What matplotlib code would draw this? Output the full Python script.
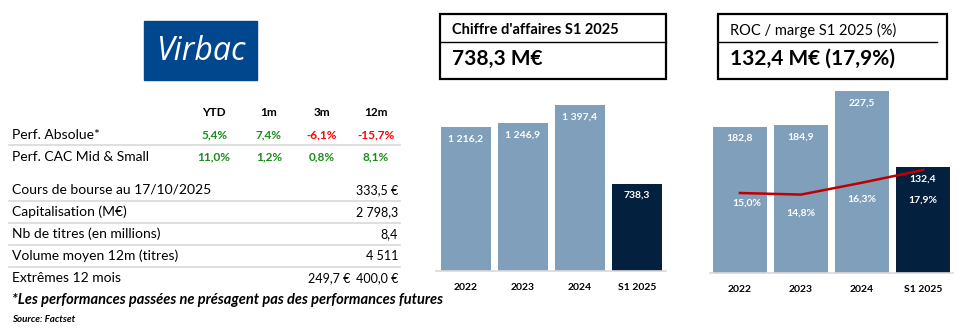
import matplotlib
matplotlib.use('Agg')
import matplotlib.pyplot as plt
from matplotlib.patches import Rectangle
from matplotlib.lines import Line2D

plt.rcParams['font.family'] = ['Lato', 'DejaVu Sans']

W, H = 977, 331

# ---- data ----
perf_cols = ['YTD', '1m', '3m', '12m']
perf_rows = ['Perf. Absolue*', 'Perf. CAC Mid & Small']
perf_vals = [[5.4, 7.4, -6.1, -15.7],
             [11.0, 1.2, 0.8, 8.1]]

info_labels = ['Cours de bourse au 17/10/2025', 'Capitalisation (M€)',
               'Nb de titres (en millions)', 'Volume moyen 12m (titres)',
               'Extrêmes 12 mois']
info_values = ['333,5 €', '2 798,3', '8,4', '4 511', '400,0 €']
low_12m = '249,7 €'

years = ['2022', '2023', '2024', 'S1 2025']
ca = [1216.2, 1246.9, 1397.4, 738.3]
roc = [182.8, 184.9, 227.5, 132.4]
marge = [15.0, 14.8, 16.3, 17.9]

LIGHT = '#809FBA'
DARK = '#03213F'
GREEN = '#1A8C1A'
RED = '#FF0000'


def fx(x):
    return x / W


def fy(y):
    return 1 - y / H


def fmt(v, dec=1):
    s = f'{v:,.{dec}f}'.replace(',', ' ').replace('.', ',')
    return s


fig = plt.figure(figsize=(W / 100, H / 100), dpi=100)

# ---- logo ----
fig.patches.append(Rectangle((fx(144), fy(80)), fx(113), 59 / H,
                             transform=fig.transFigure, color='#00478D'))
fig.text(fx(201), fy(51), 'Virbac', color='white', fontsize=23,
         ha='center', va='center', family='Open Sans', style='italic')

# ---- perf table ----
col_x = [214, 269, 322, 376]
for c, x in zip(perf_cols, col_x):
    fig.text(fx(x), fy(113), c, ha='center', va='center', fontsize=8.5,
             fontweight='bold', color='black')
row_y = [135, 157]
for r, y, vals in zip(perf_rows, row_y, perf_vals):
    fig.text(fx(12), fy(y), r, ha='left', va='center', fontsize=10)
    for v, x in zip(vals, col_x):
        fig.text(fx(x), fy(y), fmt(v) + '%', ha='center', va='center',
                 fontsize=8.5, fontweight='bold',
                 color=GREEN if v >= 0 else RED)
fig.lines.append(Line2D([fx(9), fx(400)], [fy(145), fy(145)],
                        transform=fig.transFigure, color='#D9D9D9', lw=1.2))

# ---- info table ----
info_y = [190, 212, 234, 256, 278]
for i, (lab, val, y) in enumerate(zip(info_labels, info_values, info_y)):
    fig.text(fx(12), fy(y), lab, ha='left', va='center', fontsize=10)
    fig.text(fx(398), fy(y), val, ha='right', va='center', fontsize=9)
    if i < len(info_labels) - 1:
        ly = y + 11
        fig.lines.append(Line2D([fx(9), fx(400)], [fy(ly), fy(ly)],
                                transform=fig.transFigure, color='#D9D9D9', lw=1.2))
fig.text(fx(350), fy(info_y[-1]), low_12m, ha='right', va='center', fontsize=9)

fig.text(fx(12), fy(300), '*Les performances passées ne présagent pas des performances futures',
         ha='left', va='center', fontsize=10.5, fontweight='bold', style='italic')
fig.text(fx(12), fy(320), 'Source: Factset', ha='left', va='center',
         fontsize=7, fontweight='bold', style='italic')


# ---- header boxes ----
def header_box(x0, x1, title, value, title_weight, line_end):
    fig.patches.append(Rectangle((fx(x0), fy(79)), fx(x1 - x0), 65 / H,
                                 transform=fig.transFigure, fill=False,
                                 edgecolor='black', lw=1.6))
    fig.lines.append(Line2D([fx(x0), fx(line_end)], [fy(42), fy(42)],
                            transform=fig.transFigure, color='black', lw=1.0))
    fig.text(fx(x0 + 12), fy(30), title, ha='left', va='center',
             fontsize=10.5, fontweight=title_weight)
    fig.text(fx(x0 + 12), fy(59), value, ha='left', va='center',
             fontsize=15, fontweight='bold')


header_box(440, 666, "Chiffre d'affaires S1 2025", '738,3 M€', 'bold', 666)
header_box(718, 947, 'ROC / marge S1 2025 (%)', '132,4 M€ (17,9%)', 'normal', 937)


def make_ax(x0, x1, y_top, y_base):
    return fig.add_axes([fx(x0), fy(y_base), fx(x1 - x0), (y_base - y_top) / H])


def style_ax(ax):
    for s in ['top', 'right', 'left']:
        ax.spines[s].set_visible(False)
    ax.spines['bottom'].set_color('#D9D9D9')
    ax.spines['bottom'].set_linewidth(1.2)
    ax.set_yticks([])
    ax.tick_params(axis='x', length=0, pad=9)
    ax.patch.set_alpha(0)
    for t in ax.get_xticklabels():
        t.set_fontsize(7.5)
        t.set_fontweight('bold')


colors = [LIGHT, LIGHT, LIGHT, DARK]
xs = list(range(len(years)))

# ---- chart 1: chiffre d'affaires ----
ax1 = make_ax(436, 666, 80, 271)
ax1.bar(xs, ca, width=0.877, color=colors)
ax1.set_xlim(-0.526, 3.509)
ax1.set_ylim(0, (271 - 80) / 0.1185)
ax1.set_xticks(xs)
ax1.set_xticklabels(years)
style_ax(ax1)
for x, v in zip(xs, ca):
    ax1.annotate(fmt(v), (x, v), xytext=(0, -8.5), textcoords='offset points',
                 ha='center', va='center', color='white', fontsize=7.5,
                 fontweight='bold')

# ---- chart 2: ROC + marge ----
ax2 = make_ax(710, 953, 80, 273)
ax2.bar(xs, roc, width=0.885, color=colors)
ax2.set_xlim(-0.49, 3.49)
ax2.set_ylim(0, (273 - 80) / 0.8)
ax2.set_xticks(xs)
ax2.set_xticklabels(years)
style_ax(ax2)
for x, v in zip(xs, roc):
    ax2.annotate(fmt(v), (x, v), xytext=(0, -8.5), textcoords='offset points',
                 ha='center', va='center', color='white', fontsize=7.5,
                 fontweight='bold')

ax3 = ax2.twinx()
ax3.plot(xs, marge, color='#C00000', lw=1.8)
lo = 15.0 - 80 / 7.93
ax3.set_ylim(lo, lo + (273 - 80) / 7.93)
ax3.axis('off')
marge_off = [-7.5, -13, -12, -22]
for x, v, o in zip(xs, marge, marge_off):
    ax3.annotate(fmt(v) + '%', (x, v), xytext=(5 if x == 0 else 0, o),
                 textcoords='offset points', ha='center', va='center',
                 color='white', fontsize=7.5, fontweight='bold')

fig.savefig('out.png', dpi=100)
